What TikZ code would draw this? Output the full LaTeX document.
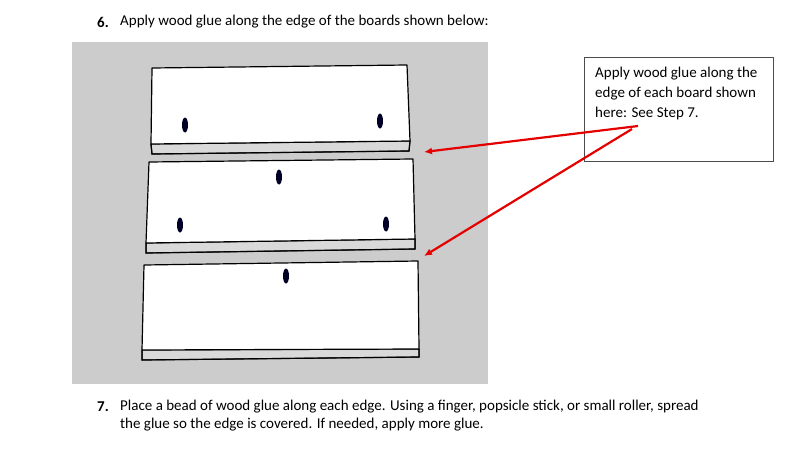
\documentclass[tikz,border=0pt]{standalone}
\usepackage{fontspec}
\setmainfont{Carlito}
\usetikzlibrary{arrows.meta}
\begin{document}
\begin{tikzpicture}[x=1pt,y=-1pt,
  face/.style={fill=white,draw=black,line width=1.2pt,line join=round},
  side/.style={fill=gray!30,draw=black,line width=1pt},
  hole/.style={fill=black!85!blue,draw=none},
  glue/.style={draw=red!90!black,line width=2.2pt,-{Latex[length=8pt,width=7pt]}},
  txt/.style={anchor=west,inner sep=0pt,font=\fontsize{15}{17}\selectfont}]
\useasboundingbox (0,0) rectangle (794,452);
\fill[black!20] (72,42) rectangle (488,384);
% board 1
\draw[side] (151,144) -- (410,141) -- (409,151) -- (152,154) -- cycle;
\draw[face] (152,68) -- (407,65) -- (410,141) -- (151,144) -- cycle;
\draw[black,line width=1.2pt] (151,144) -- (152,154) -- (409,151) -- (410,141);
% board 2
\draw[side] (146,243) -- (415,239) -- (415,249) -- (146,253) -- cycle;
\draw[face] (149,162) -- (413,159) -- (415,239) -- (146,243) -- cycle;
\draw[black,line width=1.2pt] (146,243) -- (146,253) -- (415,249) -- (415,239);
% board 3
\draw[side] (142,350) -- (419,349) -- (419,357) -- (142,360) -- cycle;
\draw[face] (144,265) -- (418,261) -- (419,349) -- (142,350) -- cycle;
\draw[black,line width=1.2pt] (142,350) -- (142,360) -- (419,357) -- (419,349);
% holes
\foreach \p in {(185,125),(380,121),(279,177),(180,225),(386,224),(286,276)}
  \fill[hole] \p ellipse (3pt and 7.5pt);
% targets
\coordinate (t1) at (424,152);
\coordinate (t2) at (424,256);
% callout
\node[draw=black!70,line width=0.8pt,minimum width=189pt,minimum height=104pt,anchor=north west] (box) at (584,57) {};
\node[anchor=north west,inner sep=0pt,align=left,font=\fontsize{15}{20}\selectfont] (ct) at (595,67)
  {Apply wood glue along the\\edge of each board shown\\here: See Step 7.};
\coordinate (s1) at (638,126);
\coordinate (s2) at (632,129);
\draw[glue] (s1) -- (t1);
\draw[glue] (s2) -- (t2);
% headings
\node[txt] (n6) at (97,22) {\textbf{6.}};
\node[txt] (h6) at (120,22) {Apply wood glue along the edge of the boards shown below:};
\node[txt] (n7) at (97,407) {\textbf{7.}};
\node[txt,align=left,anchor=north west,font=\fontsize{15}{18}\selectfont] (h7) at (120,400)
  {Place a bead of wood glue along each edge. Using a finger, popsicle stick, or small roller, spread\\the glue so the edge is covered. If needed, apply more glue.};
\end{tikzpicture}
\end{document}
